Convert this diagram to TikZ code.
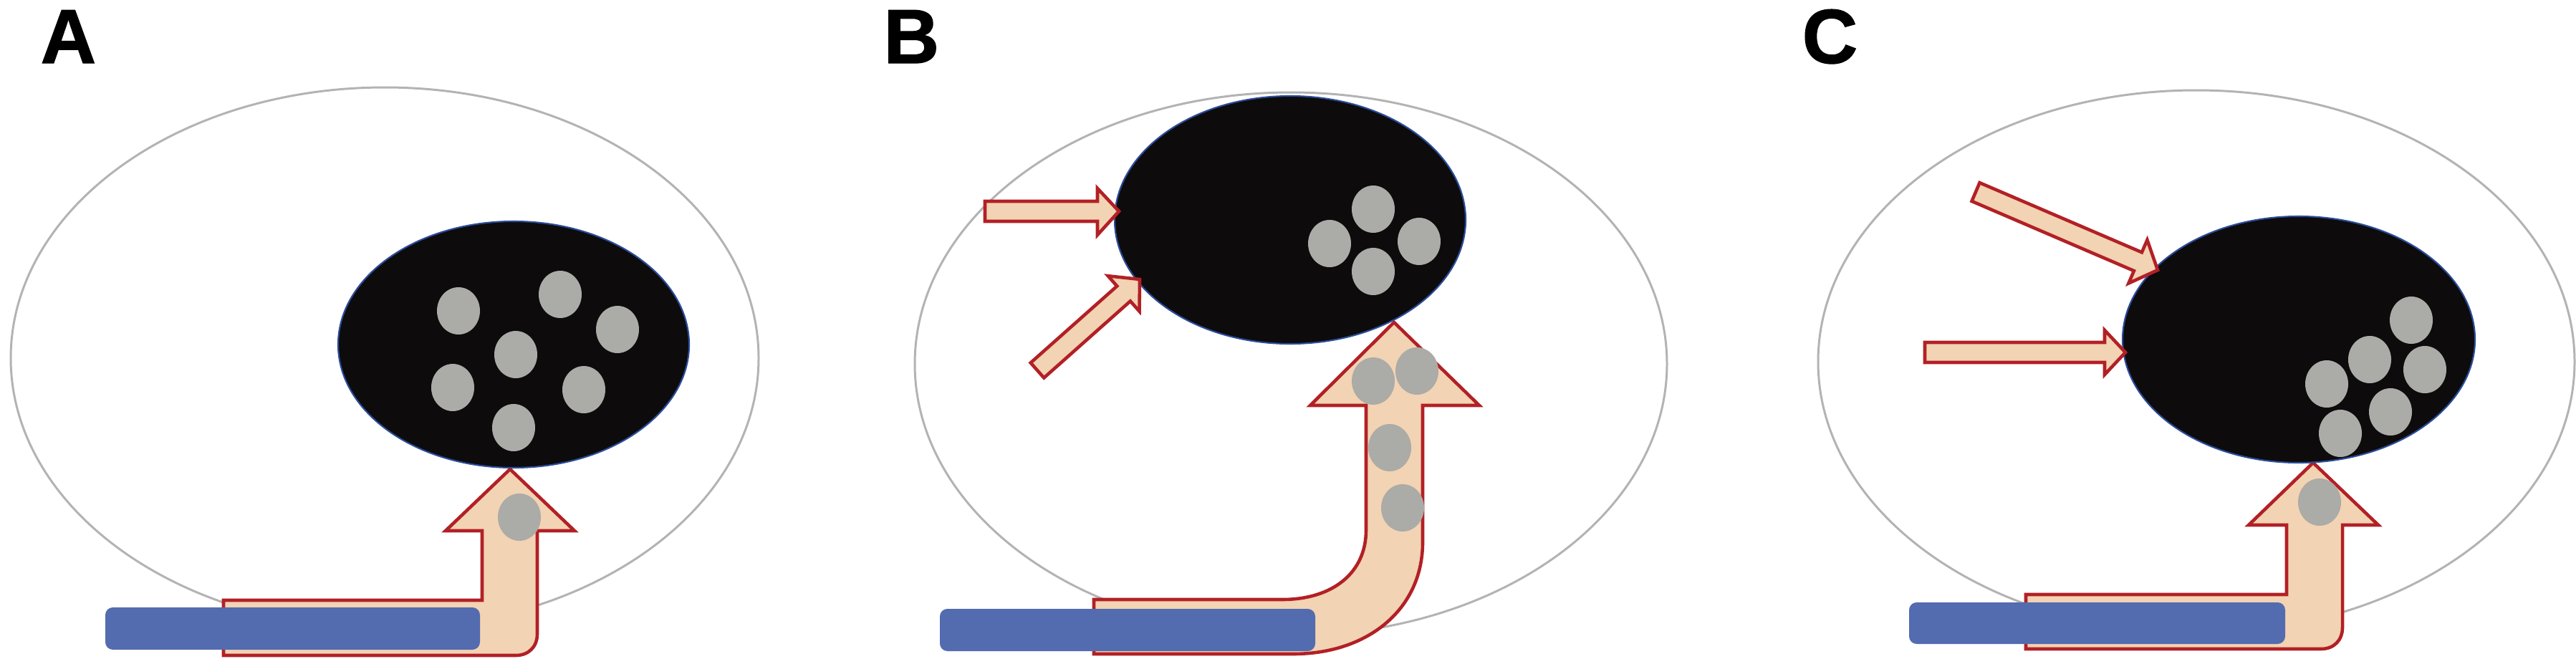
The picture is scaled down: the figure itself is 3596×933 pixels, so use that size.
\documentclass[tikz,border=0pt]{standalone}
\usepackage{fontspec}
\setmainfont{Liberation Sans}
\newfontfamily\labfont[FakeBold=1.2]{Liberation Sans Bold}
\usetikzlibrary{calc}
\definecolor{peach}{HTML}{F2D3B3}
\definecolor{arrowred}{HTML}{B22025}
\definecolor{barblue}{HTML}{536BAF}
\definecolor{dotgray}{HTML}{ABABA7}
\definecolor{outergray}{HTML}{B3B3B3}
\definecolor{nucfill}{HTML}{0D0B0C}
\definecolor{nucblue}{HTML}{2B4C9A}
\tikzset{
  outer/.style={draw=outergray, line width=0.85pt},
  nucleus/.style={fill=nucfill, draw=nucblue, line width=0.6pt},
  grdot/.style={fill=dotgray},
  blockarrow/.style={fill=peach, draw=arrowred, line width=1.3pt, line join=miter},
  bar/.style={fill=barblue, rounded corners=3pt},
  panellabel/.style={font=\labfont\fontsize{30.5}{32}\selectfont, anchor=base west, inner sep=0pt}
}
\begin{document}
\begin{tikzpicture}[x=0.01cm, y=-0.01cm]
\useasboundingbox (0,0) rectangle (3596,933);

% ---------------- Panel A ----------------
\node[panellabel] (labA) at (56,88) {A};
\draw[outer] (537,500) ellipse [x radius=522, y radius=378];
\coordinate (tipA) at (712,655);
\draw[blockarrow] (312,838) -- (673,838) -- (673,741) -- (622,741) -- (tipA)
  -- (802,741) -- (750,741) -- (750,885) .. controls (750,903) and (738,915) .. (720,915)
  -- (312,915) -- cycle;
\fill[bar] (147,848) rectangle (670,907);
\draw[nucleus] (717,481) ellipse [x radius=245, y radius=172];
\foreach \p in {(640,434),(782,411),(862,460),(720,495),(632,541),(815,544),(717,597),(725,722)}
  \fill[grdot] \p ellipse [x radius=30, y radius=33];

% ---------------- Panel B ----------------
\node[panellabel] (labB) at (1233,88) {B};
\draw[outer] (1802,508) ellipse [x radius=525, y radius=379];
\coordinate (tipB) at (1946,450);
\draw[blockarrow] (1527,837) -- (1790,837) .. controls (1860,837) and (1907,800) .. (1907,740)
  -- (1907,566) -- (1829,566) -- (tipB) -- (2065,566) -- (1986,566) -- (1986,757)
  .. controls (1986,850) and (1910,913) .. (1805,913) -- (1527,913) -- cycle;
\fill[bar] (1312,850) rectangle (1836,909);
\draw[nucleus] (1801,307) ellipse [x radius=245, y radius=173];
\foreach \p in {(1917,292),(1856,340),(1981,337),(1917,379),(1917,532),(1978,518),(1940,625),(1958,709)}
  \fill[grdot] \p ellipse [x radius=30, y radius=33];
\coordinate (tipB1) at (1562,295);
\draw[blockarrow] (1375,281) -- (1532,281) -- (1532,263) -- (tipB1) -- (1532,328) -- (1532,309) -- (1375,309) -- cycle;
\coordinate (tipB2) at (1591,390);
\draw[blockarrow] (1438.7,506.5) -- (1559.3,399.4) -- (1546.7,385.2) -- (tipB2) -- (1590.5,434.6) -- (1577.9,420.4) -- (1457.3,527.5) -- cycle;

% ---------------- Panel C ----------------
\node[panellabel] (labC) at (2515,88) {C};
\draw[outer] (3066,505) ellipse [x radius=528, y radius=379];
\coordinate (tipC) at (3229,646);
\draw[blockarrow] (2828,830) -- (3192,830) -- (3192,733) -- (3139,733) -- (tipC)
  -- (3320,733) -- (3270,733) -- (3270,876) .. controls (3270,894) and (3258,906) .. (3240,906)
  -- (2828,906) -- cycle;
\fill[bar] (2665,841) rectangle (3190,899);
\draw[nucleus] (3209,474) ellipse [x radius=246, y radius=172];
\foreach \p in {(3366,447),(3308,502),(3385,516),(3248,536),(3337,575),(3267,605),(3238,701)}
  \fill[grdot] \p ellipse [x radius=30, y radius=33];
\coordinate (tipC1) at (3012,377);
\draw[blockarrow] (2763.5,255.1) -- (2989.9,352.3) -- (2997.4,334.9) -- (tipC1) -- (2971.4,395.5) -- (2978.9,378.1) -- (2752.5,280.9) -- cycle;
\coordinate (tipC2) at (2967,492);
\draw[blockarrow] (2687,478) -- (2938,478) -- (2938,461) -- (tipC2) -- (2938,523) -- (2938,506) -- (2687,506) -- cycle;
\end{tikzpicture}
\end{document}
